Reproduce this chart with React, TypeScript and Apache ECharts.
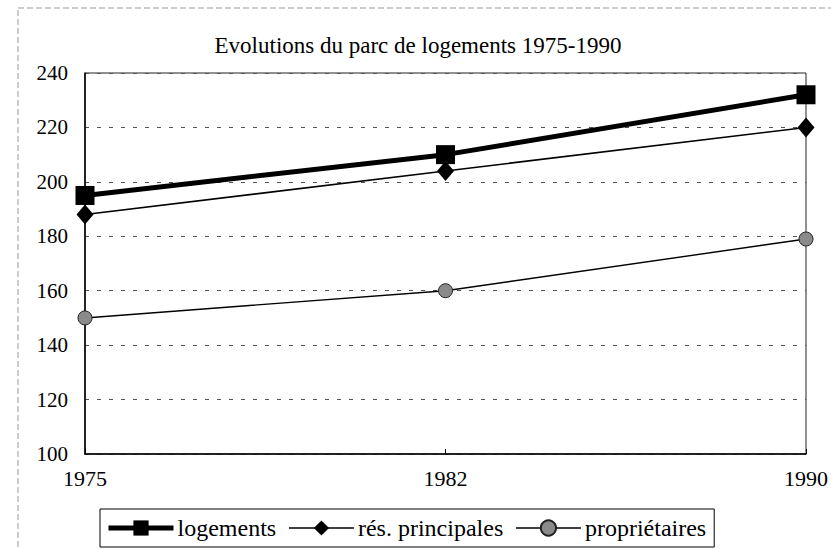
import React, { useEffect, useRef } from "react";
import * as echarts from "echarts";

const years = ["1975", "1982", "1990"];
const logements = [195, 210, 232];
const residencesPrincipales = [188, 204, 220];
const proprietaires = [150, 160, 179];
const seriesNames = ["logements", "rés. principales", "propriétaires"];
const titleText = "Evolutions du parc de logements 1975-1990";

const FONT = "'Liberation Serif', 'DejaVu Serif', serif";

export default function App() {
  const ref = useRef<HTMLDivElement>(null);
  useEffect(() => {
    if (!ref.current) return;
    const chart = echarts.init(ref.current, null, { renderer: "svg", width: 831, height: 549 });
    chart.setOption({
      animation: false,
      backgroundColor: "#fff",
      textStyle: { fontFamily: FONT, color: "#000" },
      title: {
        text: titleText,
        left: 413,
        textAlign: "center",
        top: 29,
        textStyle: { fontFamily: FONT, fontSize: 23, fontWeight: "normal", color: "#000" },
      },
      graphic: [
        {
          type: "rect",
          shape: { x: 18, y: 8, width: 830, height: 560 },
          style: { fill: "none", stroke: "#999", lineWidth: 1, lineDash: [6, 3] },
          silent: true,
          z: -1,
        },
      ],
      grid: { left: 85, width: 730, top: 73, bottom: 95, show: true, borderColor: "#222", borderWidth: 1, backgroundColor: "transparent" },
      xAxis: {
        type: "category",
        data: years,
        boundaryGap: false,
        axisLine: { lineStyle: { color: "#000", width: 1.5 } },
        axisTick: { show: true, inside: true, length: 5, lineStyle: { color: "#000" } },
        axisLabel: { color: "#000", fontFamily: FONT, fontSize: 22, margin: 13 },
        splitLine: { show: false },
      },
      yAxis: {
        type: "value",
        min: 100,
        max: 240,
        interval: 20,
        axisLine: { show: true, lineStyle: { color: "#000", width: 1.5 } },
        axisTick: { show: false },
        axisLabel: { color: "#000", fontFamily: FONT, fontSize: 21, margin: 17 },
        splitLine: { show: true, lineStyle: { color: "#555", type: [4, 8], width: 1 } },
      },
      legend: {
        left: 100,
        top: 509,
        padding: [7, 8, 7, 6],
        borderColor: "#000",
        borderWidth: 1,
        itemWidth: 65,
        itemHeight: 19,
        itemGap: 12,
        textStyle: { fontFamily: FONT, fontSize: 24, color: "#000", padding: [0, 0, 0, -1] },
        data: [
          { name: seriesNames[0], lineStyle: { width: 5, color: "#000" } },
          { name: seriesNames[1], lineStyle: { width: 1.6, color: "#000" } },
          { name: seriesNames[2], lineStyle: { width: 1.4, color: "#000" } },
        ],
      },
      series: [
        {
          name: seriesNames[0],
          type: "line",
          data: logements,
          symbol: "rect",
          symbolSize: 19,
          lineStyle: { color: "#000", width: 5 },
          itemStyle: { color: "#000" },
          z: 5,
        },
        {
          name: seriesNames[1],
          type: "line",
          data: residencesPrincipales,
          symbol: "diamond",
          symbolSize: [17, 20],
          lineStyle: { color: "#000", width: 1.6 },
          itemStyle: { color: "#000" },
          z: 4,
        },
        {
          name: seriesNames[2],
          type: "line",
          data: proprietaires,
          symbol: "circle",
          symbolSize: 14,
          lineStyle: { color: "#000", width: 1.4 },
          itemStyle: { color: "#8a8a8a", borderColor: "#222", borderWidth: 1 },
          z: 3,
        },
      ],
    });
    return () => chart.dispose();
  }, []);
  return (
    <div
      ref={ref}
      style={{ position: "absolute", left: 0, top: 0, width: 831, height: 549, overflow: "hidden" }}
    />
  );
}
